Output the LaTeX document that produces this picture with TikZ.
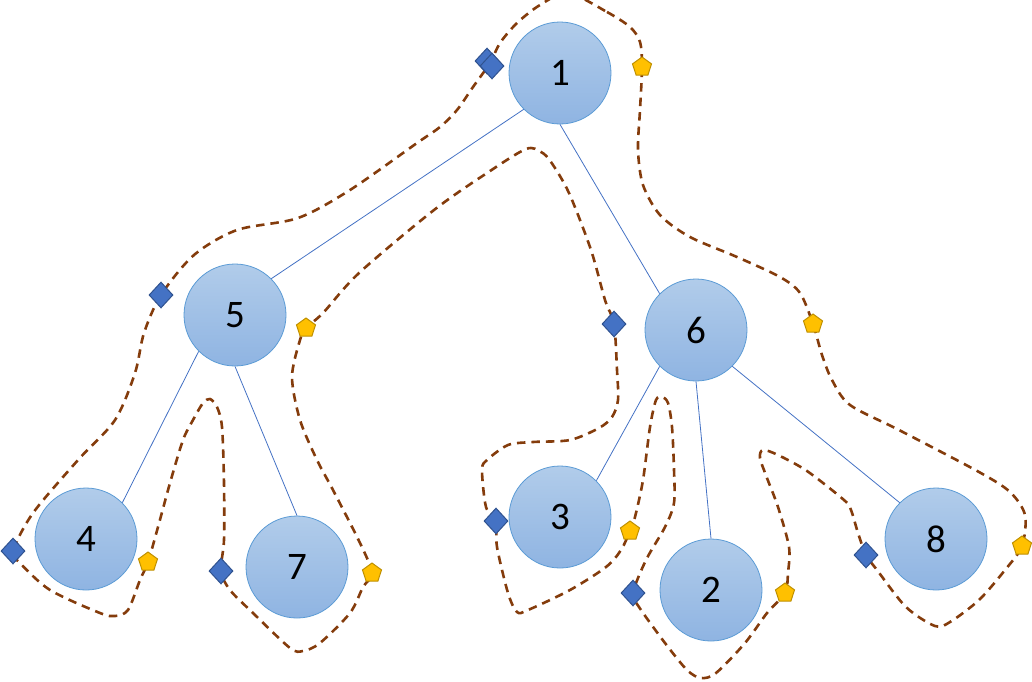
\documentclass[tikz,border=0pt]{standalone}
\usepackage{fontspec}
\setmainfont{Carlito}
\usetikzlibrary{shapes.geometric}
\definecolor{edgeblue}{HTML}{4472C4}
\definecolor{rimblue}{HTML}{5B9BD5}
\definecolor{topfill}{HTML}{B1CCEA}
\definecolor{botfill}{HTML}{8FB4E2}
\definecolor{dmfill}{HTML}{4472C4}
\definecolor{dmrim}{HTML}{2F528F}
\definecolor{pgfill}{HTML}{FFC000}
\definecolor{pgrim}{HTML}{BF9000}
\definecolor{tour}{HTML}{843C0C}
\tikzset{
  treenode/.style={circle, minimum size=102pt, inner sep=0pt, draw=rimblue, line width=0.8pt,
    top color=topfill, bottom color=botfill, font=\fontsize{39}{40}\selectfont},
  treeedge/.style={draw=edgeblue, line width=0.8pt},
  dmark/.style={diamond, minimum width=24pt, minimum height=26pt, inner sep=0pt, aspect=1,
    fill=dmfill, draw=dmrim, line width=1pt},
  pmark/.style={regular polygon, regular polygon sides=5, minimum size=20pt, inner sep=0pt,
    fill=pgfill, draw=pgrim, line width=1pt},
  tourline/.style={draw=tour, line width=2.6pt, dash pattern=on 8.5pt off 6pt}
}
\begin{document}
\begin{tikzpicture}[x=1pt,y=-1pt]
\useasboundingbox (0,0) rectangle (1032,681);
% Euler tour
\draw[tourline] plot[smooth cycle, tension=0.5] coordinates {
(568,-7) (607,12) (630,27) (640,42) (642,67) (640,110) (638,150) (643,185) (660,215) (690,237)
(737,257) (780,277) (800,293) (813,324) (822,355) (832,380) (850,405) (899,430) (979,472)
(1010,492) (1025,515) (1022,546) (1005,570) (979,600) (950,622) (935,626) (906,607) (877,570)
(866,555) (858,533) (851,510) (844,500) (807,471) (778,455) (763,450) (760,458) (767,478)
(778,507) (789,547) (788,573) (785,593) (767,613) (745,643) (716,673) (701,678) (687,670)
(665,643) (639,607) (633,593) (646,560) (665,527) (674,503) (674,470) (672,427) (668,403)
(662,397) (656,400) (650,427) (643,480) (635,517) (630,531) (621,550) (606,567) (570,590)
(528,610) (517,612) (508,593) (497,547) (496,521) (486,507) (482,470) (487,460) (508,445)
(533,442) (570,440) (599,428) (612,417) (618,400) (617,370) (614,324) (605,300) (591,250)
(569,193) (551,162) (541,152) (526,149) (487,173) (434,210) (359,273) (323,313) (306,328)
(300,340) (292,377) (300,420) (317,460) (333,490) (360,543) (372,573) (363,587) (350,613)
(320,643) (303,651) (290,648) (253,613) (230,590) (221,571) (224,540) (224,483) (222,427)
(217,407) (210,399) (203,403) (193,420) (183,440) (170,483) (158,527) (148,562) (140,580)
(128,610) (115,616) (100,613) (50,590) (20,563) (13,551) (33,513) (78,460) (115,420)
(135,373) (144,333) (161,295) (194,255) (237,230) (298,218) (350,190) (417,143) (440,127)
(457,110) (473,87) (490,63) (500,43) (517,23) (540,5)};
% tree nodes
\node[treenode] (n1) at (560,73) {1};
\node[treenode] (n5) at (235,315) {5};
\node[treenode] (n6) at (696,330) {6};
\node[treenode] (n4) at (86,539) {4};
\node[treenode] (n7) at (297,567) {7};
\node[treenode] (n3) at (560,517) {3};
\node[treenode] (n2) at (711,590) {2};
\node[treenode] (n8) at (936,539) {8};
% edges
\draw[treeedge] (n1.south west) -- (n5.north east);
\draw[treeedge] (n1.south) -- (n6.north west);
\draw[treeedge] (n5.south west) -- (n4.north east);
\draw[treeedge] (n5.south) -- (n7.north);
\draw[treeedge] (n6.south west) -- (n3.north east);
\draw[treeedge] (n6.south) -- (n2.north);
\draw[treeedge] (n6.south east) -- (n8.north west);
% diamond markers
\node[dmark] (d1a) at (487,61) {};
\node[dmark] (d1b) at (492,66) {};
\node[dmark] (d5) at (161,295) {};
\node[dmark] (d6) at (614,324) {};
\node[dmark] (d4) at (13,551) {};
\node[dmark] (d7) at (221,571) {};
\node[dmark] (d3) at (496,521) {};
\node[dmark] (d2) at (633,593) {};
\node[dmark] (d8) at (866,555) {};
% pentagon markers
\node[pmark] (p1) at (642,67) {};
\node[pmark] (p5) at (306,328) {};
\node[pmark] (p6) at (813,324) {};
\node[pmark] (p4) at (148,562) {};
\node[pmark] (p7) at (372,573) {};
\node[pmark] (p3) at (630,531) {};
\node[pmark] (p2) at (785,593) {};
\node[pmark] (p8) at (1022,546) {};
\end{tikzpicture}
\end{document}
